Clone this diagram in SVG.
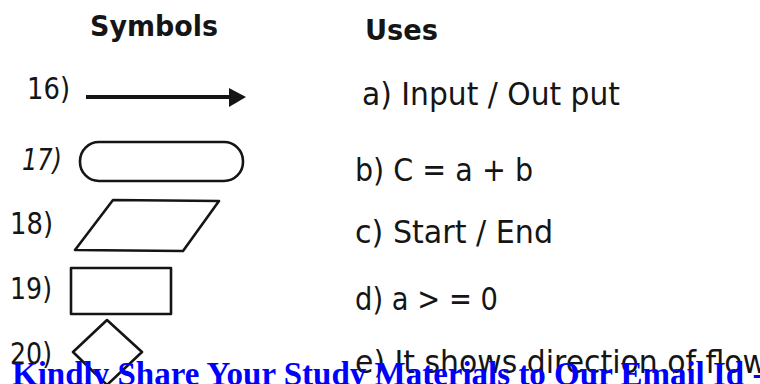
<svg xmlns="http://www.w3.org/2000/svg" width="760" height="384" viewBox="0 0 760 384">
<style>
.h{font-family:"DejaVu Sans","Verdana",sans-serif;font-weight:bold;font-size:28px;fill:#151515}
.n{font-family:"DejaVu Sans","Verdana",sans-serif;font-size:31px;fill:#151515}
.u{font-family:"DejaVu Sans","Verdana",sans-serif;font-size:32px;fill:#151515}
.s{fill:none;stroke:#151515;stroke-width:2.6;stroke-linejoin:round}
.w{font-family:"Liberation Serif","Times New Roman",serif;font-weight:bold;font-size:33px;fill:#0000ff}
</style>
<rect width="760" height="384" fill="#ffffff"/>
<g id="headers">
<text class="h" x="90" y="36" textLength="128" lengthAdjust="spacingAndGlyphs">Symbols</text>
<text class="h" x="365" y="40" textLength="73" lengthAdjust="spacingAndGlyphs">Uses</text>
</g>
<g id="sym16">
<text class="n" x="27" y="99" textLength="43" lengthAdjust="spacingAndGlyphs">16)</text>
<line x1="86" y1="97" x2="230" y2="97" stroke="#151515" stroke-width="4"/>
<polygon points="229,88 246,97 229,107" fill="#151515"/>
</g>
<g id="sym17">
<text class="n" x="22" y="170" font-style="italic" textLength="40" lengthAdjust="spacingAndGlyphs">17)</text>
<rect class="s" x="80" y="142" width="163" height="39" rx="19" ry="19"/>
</g>
<g id="sym18">
<text class="n" x="10" y="234" textLength="43" lengthAdjust="spacingAndGlyphs">18)</text>
<polygon class="s" points="113,200 219,201 183,251 75,250"/>
</g>
<g id="sym19">
<text class="n" x="10" y="299" textLength="42" lengthAdjust="spacingAndGlyphs">19)</text>
<rect class="s" x="71" y="268" width="100" height="46"/>
</g>
<g id="sym20">
<text class="n" x="10" y="364" textLength="42" lengthAdjust="spacingAndGlyphs">20)</text>
<polygon class="s" points="107,320 142,352 107,385 73,352"/>
</g>
<g id="uses">
<text class="u" x="362" y="105" textLength="258" lengthAdjust="spacingAndGlyphs">a) Input / Out put</text>
<text class="u" x="355" y="181" textLength="178" lengthAdjust="spacingAndGlyphs">b) C = a + b</text>
<text class="u" x="355" y="243" textLength="198" lengthAdjust="spacingAndGlyphs">c) Start / End</text>
<text class="u" x="355" y="310" textLength="143" lengthAdjust="spacingAndGlyphs">d) a &gt; = 0</text>
<text class="u" x="355" y="373" textLength="412" lengthAdjust="spacingAndGlyphs">e) It shows direction of flow</text>
</g>
<g id="connectors"></g>
<g id="watermark">
<text class="w" x="12" y="385">Kindly Share Your Study Materials to Our Email Id -</text>
</g>
</svg>
